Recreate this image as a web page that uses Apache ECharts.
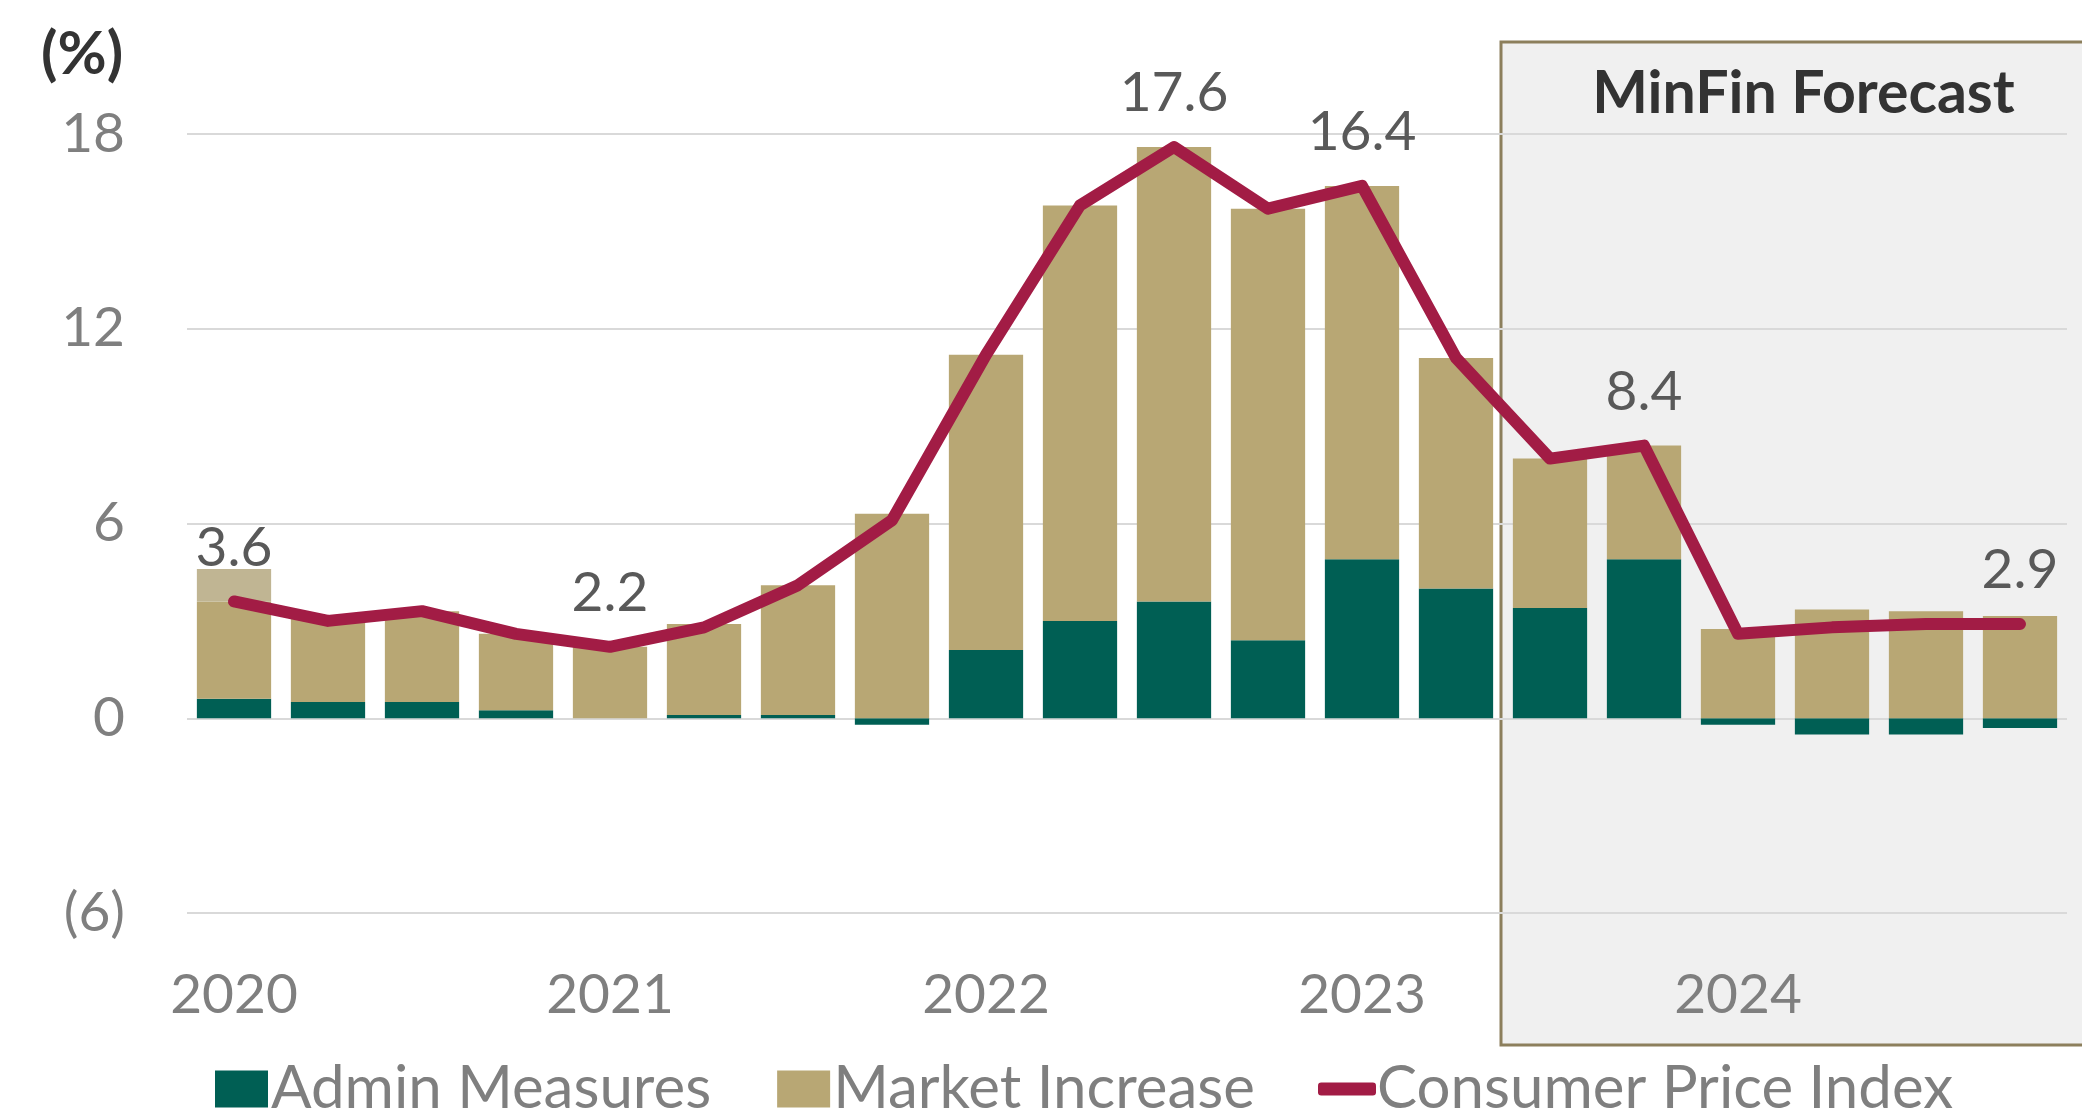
<!DOCTYPE html>
<html>
<head>
<meta charset="utf-8">
<script src="https://cdn.jsdelivr.net/npm/echarts@6/dist/echarts.min.js"></script>
<style>
  html, body { margin: 0; padding: 0; background: #fff; }
  #chart { width: 2082px; height: 1116px; }
</style>
</head>
<body>
<div id="chart"></div>
<script>
// quarterly data, 2020Q1 - 2024Q4
const quarters = [
    '2020Q1', '2020Q2', '2020Q3', '2020Q4',
    '2021Q1', '2021Q2', '2021Q3', '2021Q4',
    '2022Q1', '2022Q2', '2022Q3', '2022Q4',
    '2023Q1', '2023Q2', '2023Q3', '2023Q4',
    '2024Q1', '2024Q2', '2024Q3', '2024Q4'
];
const adminMeasures = [0.6, 0.5, 0.5, 0.25, 0, 0.1, 0.1, -0.2, 2.1, 3.0, 3.6, 2.4, 4.9, 4.0, 3.4, 4.9, -0.2, -0.5, -0.5, -0.3];
const marketIncrease = [3.0, 2.6, 2.8, 2.35, 2.2, 2.8, 4.0, 6.3, 9.1, 12.8, 14.0, 13.3, 11.5, 7.1, 4.6, 3.5, 2.75, 3.35, 3.3, 3.15];
// lighter top part of the first bar
const marketShade = [1.0, null, null, null, null, null, null, null, null, null, null, null, null, null, null, null, null, null, null, null];
const cpi = [3.6, 3.0, 3.3, 2.6, 2.2, 2.8, 4.1, 6.1, 11.2, 15.8, 17.6, 15.7, 16.4, 11.1, 8.0, 8.4, 2.6, 2.8, 2.9, 2.9];
const cpiLabelIdx = [0, 4, 10, 12, 15, 19];
const forecastStart = 14; // first forecast quarter

const chart = echarts.init(document.getElementById('chart'));

const cpiData = cpi.map((v, i) => {
    if (cpiLabelIdx.indexOf(i) >= 0) return v;
    return { value: v, label: { show: false } };
});

const legendText = { fontFamily: 'Lato', fontSize: 60, color: '#7f7f7f', padding: [0, 0, 0, -2] };

const option = {
    animation: false,
    textStyle: { fontFamily: 'Lato' },
    title: {
        text: '(%)',
        left: 36,
        top: 20,
        textStyle: { fontFamily: 'Lato', fontWeight: 'bold', fontSize: 60, color: '#333333' }
    },
    grid: { left: 187, right: 15, top: 134, bottom: 203 },
    legend: [
        {
            data: ['Admin Measures', 'Market Increase'],
            icon: 'rect',
            left: 210,
            bottom: -8,
            itemWidth: 53,
            itemHeight: 37,
            itemGap: 66,
            textStyle: legendText
        },
        {
            data: ['Consumer Price Index'],
            icon: 'roundRect',
            left: 1313,
            bottom: -8,
            itemWidth: 58,
            itemHeight: 13,
            textStyle: Object.assign({}, legendText, { padding: [0, 0, 0, -4] })
        }
    ],
    xAxis: {
        type: 'category',
        data: quarters,
        axisLine: { show: false, onZero: false },
        axisTick: { show: false },
        axisLabel: {
            interval: 3,
            margin: 55,
            fontSize: 55,
            color: '#7f7f7f',
            formatter: v => v.slice(0, 4)
        }
    },
    yAxis: {
        type: 'value',
        min: -6,
        max: 18,
        interval: 6,
        axisLine: { show: false },
        axisTick: { show: false },
        splitLine: { lineStyle: { color: '#d9d9d9', width: 2 } },
        axisLabel: {
            margin: 62,
            fontSize: 55,
            color: '#7f7f7f',
            formatter: v => v < 0 ? '(' + (-v) + ')' : String(v)
        }
    },
    series: [
        {
            name: 'Admin Measures',
            type: 'bar',
            stack: 'cpi',
            barCategoryGap: '21%',
            itemStyle: { color: '#005f54' },
            data: adminMeasures
        },
        {
            name: 'Market Increase',
            type: 'bar',
            stack: 'cpi',
            itemStyle: { color: '#b8a774' },
            data: marketIncrease
        },
        {
            name: 'shade',
            type: 'bar',
            stack: 'cpi',
            itemStyle: { color: '#c0b593' },
            data: marketShade
        },
        {
            name: 'Consumer Price Index',
            type: 'line',
            // tiny symbols so the labels get drawn
            symbol: 'circle',
            symbolSize: 2,
            showAllSymbol: true,
            z: 5,
            lineStyle: { color: '#a21c45', width: 12, cap: 'round', join: 'round' },
            itemStyle: { color: '#a21c45' },
            label: {
                show: true,
                position: 'top',
                distance: 25,
                fontSize: 55,
                color: '#595959',
                formatter: p => p.value.toFixed(1)
            },
            data: cpiData
        }
    ]
};
chart.setOption(option);

// forecast box, left edge between the last actual and first forecast quarter
const xa = chart.convertToPixel({ xAxisIndex: 0 }, forecastStart - 1);
const xb = chart.convertToPixel({ xAxisIndex: 0 }, forecastStart);
const boxLeft = Math.round((xa + xb) / 2) - 2;
chart.setOption({
    graphic: [
        {
            type: 'rect',
            z: -10,
            shape: { x: boxLeft, y: 42, width: 2082 - boxLeft + 10, height: 1003 },
            style: { fill: '#f0f0f0', stroke: '#8c7f5c', lineWidth: 3 }
        },
        {
            type: 'text',
            z: 10,
            style: {
                text: 'MinFin Forecast',
                x: (boxLeft + 2082) / 2 + 12,
                y: 94,
                align: 'center',
                verticalAlign: 'middle',
                font: 'bold 59px Lato',
                fill: '#333333'
            }
        }
    ]
});
</script>
</body>
</html>
